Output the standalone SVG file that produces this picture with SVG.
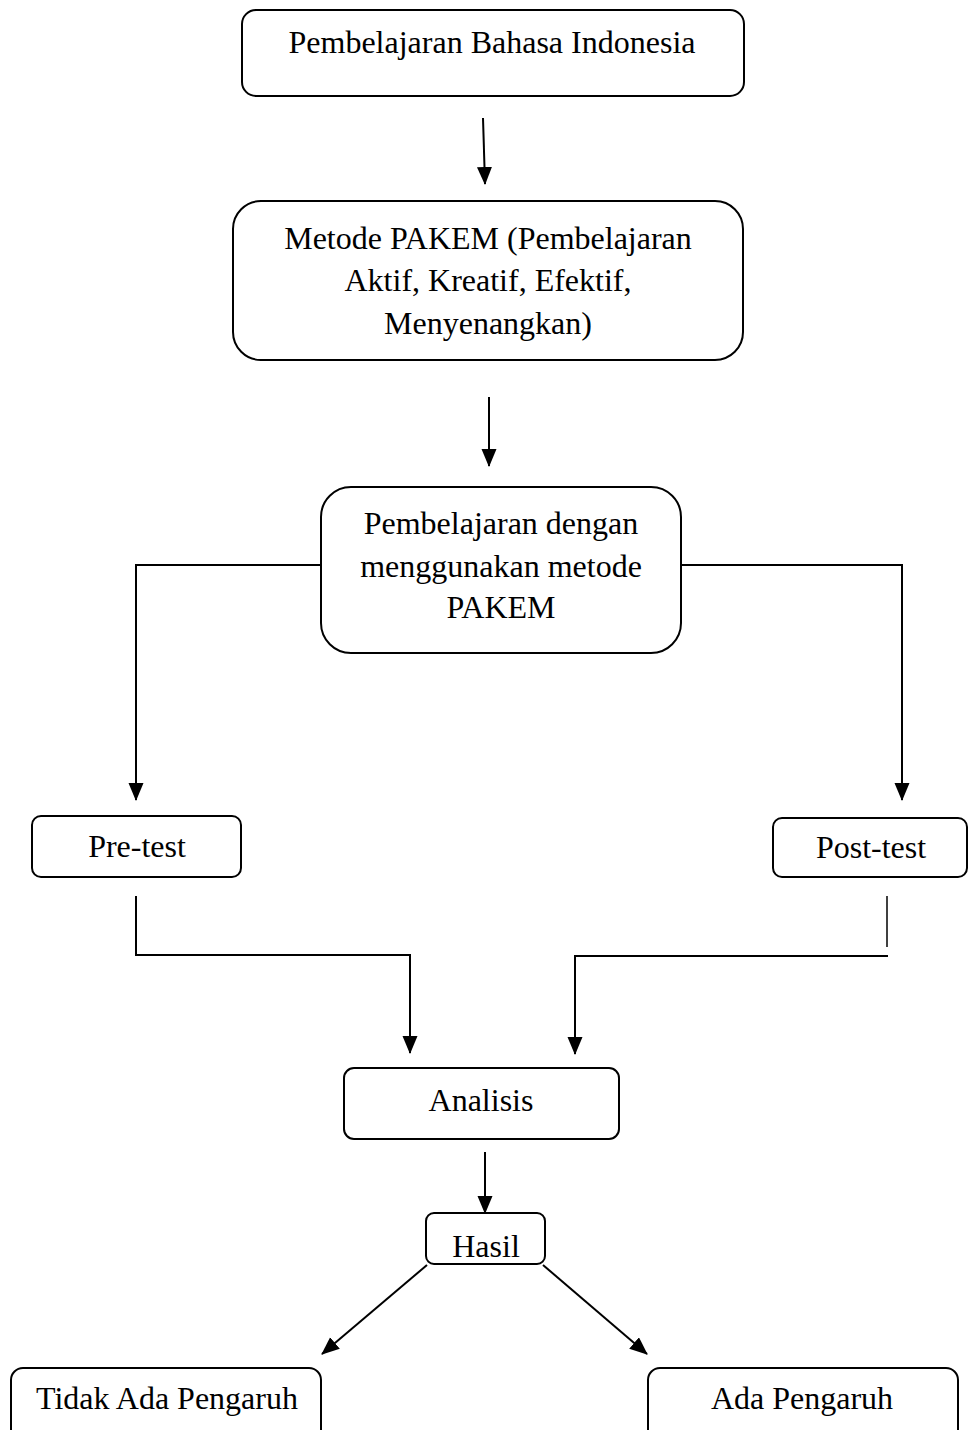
<svg xmlns="http://www.w3.org/2000/svg" width="968" height="1430" viewBox="0 0 968 1430">
  <style>
    .box { fill: #ffffff; stroke: #000000; stroke-width: 2; }
    .lbl { font-family: "Liberation Serif", "Times New Roman", serif; font-size: 32px; fill: #000000; text-anchor: middle; }
    .con { fill: none; stroke: #000000; stroke-width: 2; }
    .arr { marker-end: url(#ah); }
  </style>
  <defs>
    <marker id="ah" markerUnits="userSpaceOnUse" markerWidth="18" markerHeight="16" refX="17" refY="7.5" orient="auto">
      <path d="M0,0 L18,7.5 L0,15 z" fill="#000000"/>
    </marker>
  </defs>
  <rect width="968" height="1430" fill="#ffffff"/>

  <g id="connectors">
    <line class="con arr" x1="483" y1="118" x2="485" y2="184"/>
    <line class="con arr" x1="489" y1="397" x2="489" y2="466"/>
    <polyline class="con arr" points="321,565 136,565 136,800"/>
    <polyline class="con arr" points="681,565 902,565 902,800"/>
    <polyline class="con arr" points="136,896 136,955 410,955 410,1053"/>
    <line class="con" x1="887" y1="896" x2="887" y2="947" style="stroke-width:1.5"/>
    <polyline class="con arr" points="888,956 575,956 575,1054"/>
    <line class="con arr" x1="485" y1="1152" x2="485" y2="1213"/>
    <line class="con arr" x1="427" y1="1265" x2="322" y2="1354"/>
    <line class="con arr" x1="543" y1="1265" x2="647" y2="1354"/>
  </g>

  <g id="node-bahasa">
    <rect class="box" x="242" y="10" width="502" height="86" rx="14"/>
    <text class="lbl" x="492" y="53">Pembelajaran Bahasa Indonesia</text>
  </g>

  <g id="node-pakem">
    <rect class="box" x="233" y="201" width="510" height="159" rx="28"/>
    <text class="lbl" x="488" y="249">Metode PAKEM (Pembelajaran</text>
    <text class="lbl" x="488" y="291">Aktif, Kreatif, Efektif,</text>
    <text class="lbl" x="488" y="334">Menyenangkan)</text>
  </g>

  <g id="node-pembelajaran">
    <rect class="box" x="321" y="487" width="360" height="166" rx="30"/>
    <text class="lbl" x="501" y="534">Pembelajaran dengan</text>
    <text class="lbl" x="501" y="577">menggunakan metode</text>
    <text class="lbl" x="501" y="618">PAKEM</text>
  </g>

  <g id="node-pretest">
    <rect class="box" x="32" y="816" width="209" height="61" rx="9"/>
    <text class="lbl" x="137" y="857">Pre-test</text>
  </g>

  <g id="node-posttest">
    <rect class="box" x="773" y="818" width="194" height="59" rx="9"/>
    <text class="lbl" x="871" y="858">Post-test</text>
  </g>

  <g id="node-analisis">
    <rect class="box" x="344" y="1068" width="275" height="71" rx="10"/>
    <text class="lbl" x="481" y="1111">Analisis</text>
  </g>

  <g id="node-hasil">
    <rect class="box" x="426" y="1213" width="119" height="51" rx="8"/>
    <text class="lbl" x="486" y="1257">Hasil</text>
  </g>

  <g id="node-tidak">
    <rect class="box" x="11" y="1368" width="310" height="80" rx="12"/>
    <text class="lbl" x="167" y="1409">Tidak Ada Pengaruh</text>
  </g>

  <g id="node-ada">
    <rect class="box" x="648" y="1368" width="310" height="80" rx="12"/>
    <text class="lbl" x="802" y="1409">Ada Pengaruh</text>
  </g>
</svg>
